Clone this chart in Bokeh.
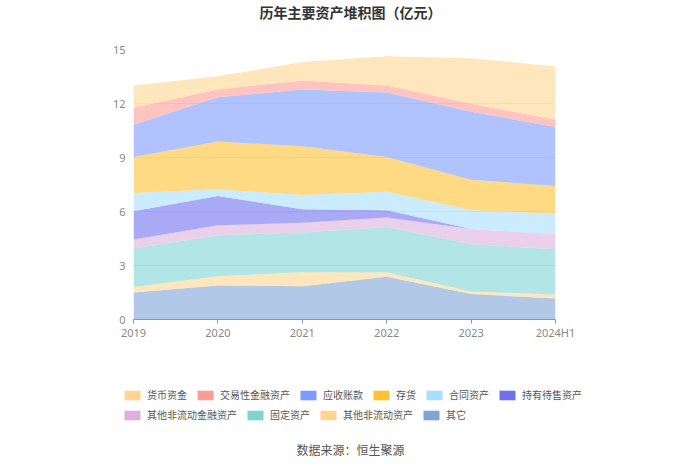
from bokeh.plotting import figure
from bokeh.layouts import column
from bokeh.models import (Range1d, FixedTicker, Legend, LegendItem, Label,
                          ColumnDataSource)
from bokeh.embed import file_html
from bokeh.resources import INLINE

# ---------------- data (亿元) ----------------
years = ["2019", "2020", "2021", "2022", "2023", "2024H1"]
qita = [1.50, 1.89, 1.85, 2.37, 1.41, 1.17]            # 其它
qt_fldzc = [0.31, 0.51, 0.78, 0.24, 0.14, 0.22]        # 其他非流动资产
gdzc = [2.13, 2.28, 2.20, 2.53, 2.63, 2.51]            # 固定资产
qt_fldjr = [0.50, 0.55, 0.55, 0.52, 0.85, 0.83]        # 其他非流动金融资产
cydszc = [1.57, 1.63, 0.74, 0.41, 0.00, 0.00]          # 持有待售资产
htzc = [1.02, 0.37, 0.80, 1.03, 1.04, 1.15]            # 合同资产
ch = [2.00, 2.66, 2.70, 1.93, 1.70, 1.54]              # 存货
yszk = [1.79, 2.46, 3.16, 3.58, 3.77, 3.27]            # 应收账款
jyxjr = [0.94, 0.43, 0.50, 0.39, 0.44, 0.41]           # 交易性金融资产
hbzj = [1.24, 0.74, 1.02, 1.63, 2.54, 2.96]            # 货币资金

y_ticks = [0, 3, 6, 9, 12, 15]

legend_names = ["货币资金", "交易性金融资产", "应收账款", "存货", "合同资产",
                "持有待售资产", "其他非流动金融资产", "固定资产", "其他非流动资产", "其它"]
legend_colors = ["#FFD591", "#FF9D94", "#7B9BFF", "#FFC233", "#A8DEFF",
                 "#7070EE", "#DDB0DD", "#7ED3D3", "#FFD591", "#7EA4D8"]

stack_names = ["其它", "其他非流动资产", "固定资产", "其他非流动金融资产", "持有待售资产",
               "合同资产", "存货", "应收账款", "交易性金融资产", "货币资金"]
stack_values = [qita, qt_fldzc, gdzc, qt_fldjr, cydszc, htzc, ch, yszk, jyxjr, hbzj]
color_of = dict(zip(legend_names, legend_colors))

W = 684

def blank(h):
    f = figure(width=W, height=h, output_backend="svg", toolbar_location=None,
               x_range=Range1d(0, W), y_range=Range1d(0, h),
               min_border_left=0, min_border_right=0,
               min_border_top=0, min_border_bottom=0)
    f.axis.visible = False
    f.grid.grid_line_color = None
    f.outline_line_color = None
    f.background_fill_color = "white"
    f.border_fill_color = "white"
    try:
        f.frame_align = False
    except Exception:
        pass
    return f

# ---------------- header (title) ----------------
HEAD_H = 30
head = blank(HEAD_H)
head.add_layout(Label(x=350, y=HEAD_H - 11, text="历年主要资产堆积图（亿元）",
                      text_align="center", text_baseline="middle",
                      text_font="Noto Sans CJK SC", text_font_size="14px",
                      text_font_style="bold", text_color="#333333"))

# ---------------- chart ----------------
xs = list(range(len(years)))
src = {"x": xs}
keys = []
for i, vals in enumerate(stack_values):
    k = f"s{i}"
    keys.append(k)
    src[k] = vals
source = ColumnDataSource(src)

CHART_H = 315
p = figure(width=W, height=CHART_H, output_backend="svg", toolbar_location=None,
           x_range=Range1d(0, len(years) - 1), y_range=Range1d(0, 15),
           min_border_left=133, min_border_right=129,
           min_border_top=19, min_border_bottom=26)
p.outline_line_color = None
p.background_fill_color = "white"
p.border_fill_color = "white"

p.varea_stack(stackers=keys, x="x", source=source,
              color=[color_of[n] for n in stack_names], fill_alpha=0.6)

p.xgrid.grid_line_color = None
p.ygrid.grid_line_color = "#E6E9F0"
p.ygrid.ticker = FixedTicker(ticks=y_ticks)

p.xaxis.ticker = FixedTicker(ticks=xs)
p.xaxis.major_label_overrides = {i: y for i, y in enumerate(years)}
p.xaxis.axis_line_color = "#8C96A8"
p.xaxis.major_tick_line_color = "#8C96A8"
p.xaxis.major_tick_out = 4
p.xaxis.major_tick_in = 0
p.xaxis.minor_tick_line_color = None
p.xaxis.major_label_text_color = "#888888"
p.xaxis.major_label_text_font_size = "11px"
p.xaxis.major_label_text_font = "Noto Sans"
p.xaxis.major_label_standoff = 1

p.yaxis.ticker = FixedTicker(ticks=y_ticks)
p.yaxis.axis_line_color = None
p.yaxis.major_tick_line_color = None
p.yaxis.major_tick_out = 0
p.yaxis.minor_tick_line_color = None
p.yaxis.major_label_text_color = "#888888"
p.yaxis.major_label_text_font_size = "11px"
p.yaxis.major_label_text_font = "Noto Sans"
p.yaxis.major_label_standoff = 8

# ---------------- footer (legend + source) ----------------
FOOT_H = 457 - HEAD_H - CHART_H
foot = blank(FOOT_H)
items = []
for nm, col in zip(legend_names, legend_colors):
    # zero-area renderer, only used to give the legend its full-colour swatch
    r = foot.varea(x=[0, 1], y1=[0, 0], y2=[0, 0], color=col)
    items.append(LegendItem(label=nm, renderers=[r]))

def make_legend(its, vy):
    return Legend(items=its, orientation="horizontal", location=(122, vy),
                  glyph_width=20, glyph_height=12, label_height=12,
                  label_standoff=5, spacing=8, padding=0, margin=0,
                  border_line_color=None, background_fill_alpha=0,
                  label_text_font="Noto Sans CJK SC", label_text_font_size="10px",
                  label_text_color="#555555", label_text_baseline="middle")

foot.add_layout(make_legend(items[:6], 457 - 402), "center")
foot.add_layout(make_legend(items[6:], 457 - 422), "center")
foot.add_layout(Label(x=350, y=8, text="数据来源：恒生聚源",
                      text_align="center", text_baseline="middle",
                      text_font="Noto Sans CJK SC", text_font_size="12px",
                      text_color="#555555"))

layout = column(head, p, foot, spacing=0)
open("out.html", "w").write(file_html(layout, INLINE))
